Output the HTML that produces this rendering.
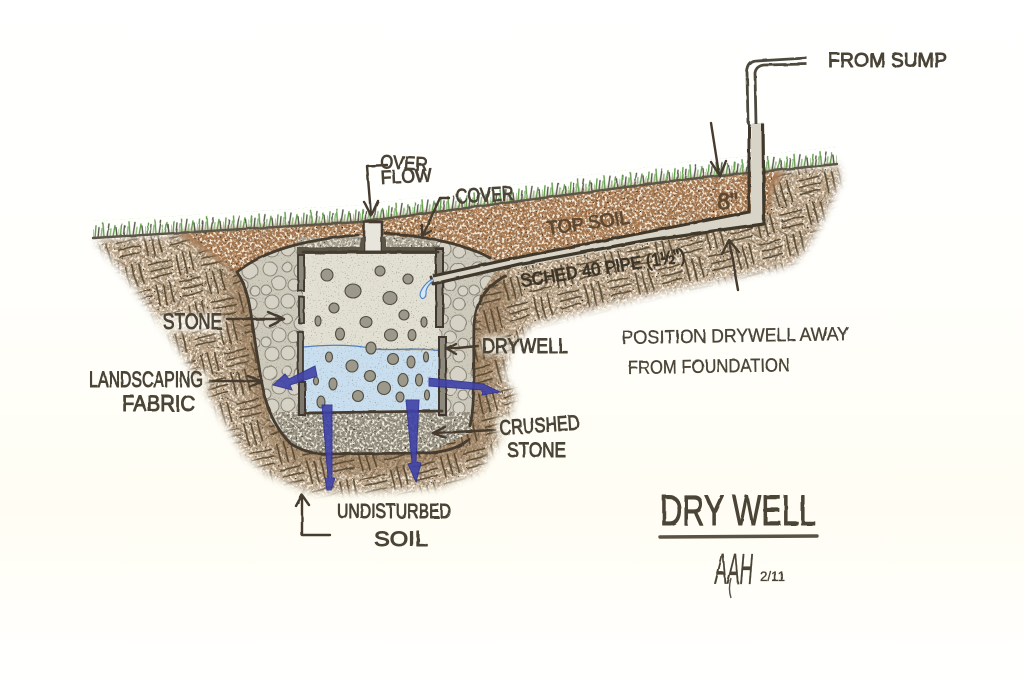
<!DOCTYPE html>
<html><head><meta charset="utf-8"><title>Dry Well</title>
<style>
html,body{margin:0;padding:0;background:#fff}
svg{display:block}
text{font-family:"Liberation Sans",sans-serif;font-weight:normal;fill:#4b4437;stroke:#4b4437;stroke-width:.9;stroke-linejoin:round}
.t{stroke-width:.35}
.l{fill:none;stroke:#453b2f;stroke-width:2.8;stroke-linecap:round;stroke-linejoin:round}
.a{fill:none;stroke:#453b2f;stroke-width:2.4;stroke-linecap:round;stroke-linejoin:round}
.s{fill:#9c988a;stroke:#514c41;stroke-width:1.1}
.b{fill:#3f42a8;stroke:#2f3290;stroke-width:1;opacity:.9}
</style></head><body>
<svg xmlns="http://www.w3.org/2000/svg" width="1024" height="681" viewBox="0 0 1024 681">
<defs>
<linearGradient id="bg" x1="0" y1="0" x2="0" y2="1"><stop offset="0" stop-color="#ffffff"/><stop offset=".4" stop-color="#fffffc"/><stop offset=".75" stop-color="#fffdf3"/><stop offset="1" stop-color="#ffffff"/></linearGradient>
<filter id="wob" x="-5%" y="-5%" width="110%" height="110%"><feTurbulence type="fractalNoise" baseFrequency=".05" numOctaves="2" seed="4"/><feDisplacementMap in="SourceGraphic" scale="3"/></filter>
<filter id="wob2" x="-5%" y="-5%" width="110%" height="110%"><feTurbulence type="fractalNoise" baseFrequency=".07" numOctaves="2" seed="9"/><feDisplacementMap in="SourceGraphic" scale="1.6"/></filter>
<filter id="blur" x="-10%" y="-10%" width="120%" height="120%"><feGaussianBlur stdDeviation="4"/></filter>
<filter id="blur2" x="-30%" y="-30%" width="160%" height="160%"><feGaussianBlur stdDeviation="3"/></filter>
<filter id="blur3" x="-10%" y="-10%" width="120%" height="120%"><feGaussianBlur stdDeviation="7"/></filter>
<filter id="speck" color-interpolation-filters="sRGB" x="0" y="0" width="100%" height="100%">
 <feTurbulence type="fractalNoise" baseFrequency=".55" numOctaves="2" seed="3" result="n"/>
 <feColorMatrix in="n" values="0 0 0 0 .17 0 0 0 0 .13 0 0 0 0 .1 7 0 0 0 -4.6" result="d"/>
 <feTurbulence type="fractalNoise" baseFrequency=".4" numOctaves="2" seed="12" result="m"/>
 <feColorMatrix in="m" values="0 0 0 0 .96 0 0 0 0 .93 0 0 0 0 .87 0 5 0 0 -2.35" result="w"/>
 <feMerge result="x"><feMergeNode in="SourceGraphic"/><feMergeNode in="w"/><feMergeNode in="d"/></feMerge>
 <feComposite in="x" in2="SourceGraphic" operator="in"/>
</filter>
<filter id="fine" color-interpolation-filters="sRGB" x="0" y="0" width="100%" height="100%">
 <feTurbulence type="fractalNoise" baseFrequency=".8" numOctaves="1" seed="6" result="n"/>
 <feColorMatrix in="n" values="0 0 0 0 .45 0 0 0 0 .43 0 0 0 0 .38 4 0 0 0 -2.5" result="d"/>
 <feMerge result="x"><feMergeNode in="SourceGraphic"/><feMergeNode in="d"/></feMerge>
 <feComposite in="x" in2="SourceGraphic" operator="in"/>
</filter>
<pattern id="hatch" width="52" height="52" patternUnits="userSpaceOnUse" patternTransform="rotate(-14)">
 <g stroke="#54462f" stroke-width="1.6" stroke-linecap="round" fill="none">
  <path d="M2 5H23M3 12H24M2 19H22M30 2V24M37 3V25M44 2V23M5 30V50M12 29V50M19 30V49M28 33H50M29 40H51M28 47H49"/>
 </g>
</pattern>
<pattern id="hatch2" width="46" height="46" patternUnits="userSpaceOnUse" patternTransform="rotate(28) translate(11 7)">
 <g stroke="#6a5a46" stroke-width="1.2" stroke-linecap="round" fill="none">
  <path d="M3 8H19M3 15H19M27 3V19M34 3V19M6 27V43M13 27V43M27 30H43M27 37H43"/>
 </g>
</pattern>
<mask id="soilMask" maskUnits="userSpaceOnUse" x="0" y="100" width="1024" height="450">
 <path d="M95 240L360 222L680 180L838 165L840 180L825 215L805 250L790 265L720 280L650 295L590 310L530 325L510 350L503 375L515 395L505 430L480 470L440 487L380 492L310 492L270 475L245 455L215 405L170 335L125 275Z" fill="#fff" filter="url(#blur)"/>
</mask>
<pattern id="pebble" width="52" height="52" patternUnits="userSpaceOnUse">
 <g fill="#d6d3c6" stroke="#8a8679" stroke-width="1">
  <circle cx="10" cy="9" r="7"/><circle cx="27" cy="7" r="5"/><circle cx="42" cy="11" r="8"/><circle cx="19" cy="23" r="7"/><circle cx="34" cy="25" r="6"/><circle cx="6" cy="30" r="5"/><circle cx="47" cy="31" r="5"/><circle cx="12" cy="42" r="7"/><circle cx="28" cy="41" r="7"/><circle cx="43" cy="44" r="6"/>
 </g>
</pattern>
<pattern id="grass" x="0" y="-17" width="26" height="17" patternUnits="userSpaceOnUse">
 <g fill="none" stroke-linecap="round" stroke-width="1.4">
  <path stroke="#5f9a48" d="M2 17L3 5M11 17L10 3M20 17L22 6"/>
  <path stroke="#55564a" d="M5 17L6 7M14 17L16 4M24 17L23 8"/>
  <path stroke="#8fb67c" d="M0 17L0 9M8 17L9 8M17 17L18 9"/>
 </g>
</pattern>
</defs>

<rect width="1024" height="681" fill="url(#bg)"/>

<!-- soil hatching -->
<g mask="url(#soilMask)">
 <rect x="80" y="150" width="780" height="350" fill="#b59e82" filter="url(#speck)"/>
 <path d="M237 272C251 320 258 400 290 443C320 462 430 462 469 439C480 400 480 320 505 276" fill="none" stroke="#8a6a48" stroke-width="34" opacity=".55" filter="url(#blur3)"/>
 <rect x="80" y="150" width="780" height="350" fill="url(#hatch)" filter="url(#wob)"/>
 <rect x="80" y="150" width="780" height="350" fill="url(#hatch2)" filter="url(#wob)" opacity=".55"/>
</g>

<!-- topsoil -->
<path d="M175 232L360 222L680 180L785 170L772 190L768 215L740 222L500 264L490 258L440 240L380 235L340 235L290 243L237 272L215 258Z" fill="#a67a54" filter="url(#blur2)"/>
<path d="M185 232L360 222L680 180L775 171L768 190L768 215L740 222L500 264L490 258L440 240L380 235L340 235L290 243L237 272L218 256Z" fill="#a67850" filter="url(#speck)"/>

<!-- grass -->
<g filter="url(#wob2)">
 <rect transform="matrix(1 -.06 0 1 93 238)" x="0" y="-17" width="267" height="17" fill="url(#grass)"/>
 <rect transform="matrix(1 -.131 0 1 360 222)" x="0" y="-17" width="320" height="17" fill="url(#grass)"/>
 <rect transform="matrix(1 -.102 0 1 680 180)" x="0" y="-17" width="157" height="17" fill="url(#grass)"/>
</g>
<path d="M93 238L360 222L680 180L837 164" fill="none" stroke="#5c5748" stroke-width="2.4" stroke-linecap="round" filter="url(#wob2)"/>

<!-- stone backfill -->
<path d="M237 272C262 252 300 240 340 235L380 235L440 240L490 258L500 264L480 295L474 320L475 400L472 425L430 452L320 453L290 445L270 420L258 360L250 300Z" fill="#cdcabb" filter="url(#fine)"/>
<path d="M237 272C262 252 300 240 340 235L380 235L440 240L490 258L500 264L480 295L474 320L475 400L472 425L470 412L300 412L270 420L258 360L250 300Z" fill="url(#pebble)" filter="url(#wob2)"/>
<!-- crushed stone -->
<path d="M272 412L472 412L472 432L430 452L320 453L290 445Z" fill="#8f8b7d" filter="url(#speck)"/>
<!-- cover stone -->
<rect x="300" y="237" width="140" height="11" fill="#a19d8e" filter="url(#speck)"/>

<!-- well interior -->
<rect x="303" y="252" width="136" height="96" fill="#e2dfd3" filter="url(#fine)"/>
<path d="M303 347L360 346L370 350L440 351L441 412L303 412Z" fill="#c9dfef" filter="url(#fine)"/>
<path d="M303 347C330 344 360 345 372 349C395 351 420 347 440 351" fill="none" stroke="#4d82c2" stroke-width="1.2"/>

<!-- stones -->
<g>
<ellipse class="s" cx="327" cy="275" rx="6" ry="6"/><ellipse class="s" cx="380" cy="271" rx="5" ry="5"/><ellipse class="s" cx="408" cy="279" rx="5" ry="5"/><ellipse class="s" cx="353" cy="291" rx="8" ry="7"/><ellipse class="s" cx="390" cy="298" rx="7" ry="6.5"/><ellipse class="s" cx="334" cy="308" rx="5" ry="5"/><ellipse class="s" cx="404" cy="315" rx="5" ry="5"/><ellipse class="s" cx="318" cy="321" rx="3" ry="5"/><ellipse class="s" cx="366" cy="322" rx="6" ry="5.5"/><ellipse class="s" cx="424" cy="322" rx="3" ry="5"/><ellipse class="s" cx="340" cy="334" rx="4.5" ry="6"/><ellipse class="s" cx="391" cy="335" rx="6.5" ry="6"/><ellipse class="s" cx="412" cy="335" rx="4" ry="5.5"/><ellipse class="s" cx="371" cy="348" rx="5" ry="6"/><ellipse class="s" cx="329" cy="357" rx="3.5" ry="5"/><ellipse class="s" cx="352" cy="366" rx="6" ry="6"/><ellipse class="s" cx="393" cy="359" rx="5.5" ry="5.5"/><ellipse class="s" cx="411" cy="362" rx="4" ry="6"/><ellipse class="s" cx="426" cy="357" rx="2.5" ry="5"/><ellipse class="s" cx="370" cy="376" rx="5.5" ry="5.5"/><ellipse class="s" cx="403" cy="380" rx="5" ry="6.5"/><ellipse class="s" cx="419" cy="380" rx="3.5" ry="6"/><ellipse class="s" cx="316" cy="381" rx="2.5" ry="4"/><ellipse class="s" cx="333" cy="384" rx="4" ry="6"/><ellipse class="s" cx="384" cy="388" rx="6.5" ry="6.5"/><ellipse class="s" cx="358" cy="396" rx="5.5" ry="5.5"/><ellipse class="s" cx="400" cy="397" rx="4" ry="5"/><ellipse class="s" cx="427" cy="395" rx="2.5" ry="5"/><ellipse class="s" cx="321" cy="402" rx="4" ry="6"/>
</g>

<!-- well walls -->
<g filter="url(#wob2)">
 <path d="M297 247H444V254H305V290H298V254H297Z" fill="#5b564a"/>
 <rect x="298" y="255" width="6" height="36" fill="#8d897b" stroke="#3f382e" stroke-width="1.8"/>
 <rect x="299" y="297" width="5" height="26" fill="#8d897b" stroke="#3f382e" stroke-width="1.8"/>
 <rect x="298" y="332" width="5" height="48" fill="#8d897b" stroke="#3f382e" stroke-width="1.8"/>
 <rect x="299" y="382" width="6" height="33" fill="#7d796c" stroke="#3f382e" stroke-width="2"/>
 <rect x="436" y="249" width="7" height="78" fill="#8d897b" stroke="#3f382e" stroke-width="2"/>
 <rect x="439" y="337" width="7" height="78" fill="#8d897b" stroke="#3f382e" stroke-width="2"/>
 <rect x="364" y="222" width="18" height="30" fill="#e8e6dc" stroke="#453b2f" stroke-width="2.6"/>
 <rect x="360" y="237" width="4" height="15" fill="#5b564a"/><rect x="382" y="237" width="4" height="15" fill="#5b564a"/>
 <path d="M303 252H438M305 413L442 411" class="l" stroke-width="1.6"/>
</g>

<!-- fabric -->
<g filter="url(#wob2)">
 <path class="l" d="M237 272C251 292 251 320 258 360C263 395 268 420 290 443C300 450 310 453 325 454L430 453C450 451 462 446 469 439"/>
 <path class="l" d="M237 272C262 252 300 240 358 235M385 233C420 236 465 243 490 258"/>
 <path class="l" d="M505 276C485 288 476 300 474 325C473 360 476 400 470 426"/>
</g>

<!-- pipes -->
<g filter="url(#wob2)">
 <path d="M432 283L750 224L764 224L764 123L751 123L751 213L432 276Z" fill="#d8d5c8"/>
 <path d="M433 276L515 258L749 212L749 124" fill="none" stroke="#3f372c" stroke-width="3"/>
 <path d="M433 284L520 264L648 240L764 224L763 124" fill="none" stroke="#3f372c" stroke-width="3.2"/>
 <path d="M748 124L747 72Q748 61 757 61L807 58M756 124L755 73Q756 66 764 65L807 64" fill="none" stroke="#4e483d" stroke-width="2.8"/>
 <path d="M431 277L433 284" class="l"/>
</g>
<path d="M433 279C427 281 420 290 420 295C421 301 427 299 426 291C427 287 429 284 433 281" fill="#d5e6f5" stroke="#4f83c5" stroke-width="1.1"/>

<!-- blue arrows -->
<g>
 <path class="b" d="M315 366L317 376L290 385L292 390L273 385L285 374L289 379Z"/>
 <path class="b" d="M429 378L429 386L483 390L482 395L500 392L485 385L484 384Z"/>
 <path class="b" d="M322 405L332 405L332 478L335 478L331 490L327 490L325 478L328 478Z"/>
 <path class="b" d="M406 400L419 400L416 462L421 463L416 482L408 464L412 463Z"/>
</g>

<!-- leader arrows -->
<g filter="url(#wob2)">
 <path class="a" d="M387 165L367 166L371 215M364 202L371 216L378 201"/>
 <path class="a" d="M449 198L440 198L423 235M422 225L422 236L431 231"/>
 <path class="a" d="M227 319L284 319M268 312L284 319L270 326"/>
 <path class="a" d="M210 381L262 381M248 376L262 381L250 387"/>
 <path class="a" d="M478 346L447 349M456 344L447 349L456 354"/>
 <path class="a" d="M495 430L433 433M445 427L433 433L446 438"/>
 <path class="a" d="M711 123L719 174M711 162L720 176L726 161"/>
 <path class="a" d="M738 290L729 240M722 254L729 240L739 252"/>
 <path class="a" d="M330 535L302 535L302 496M296 506L302 495L309 505"/>
</g>

<!-- light patches behind labels on soil -->
<g fill="#fffdf4" filter="url(#blur2)" opacity=".85">
 <rect x="160" y="314" width="62" height="18"/>
 <rect x="196" y="371" width="12" height="20"/>
 <rect x="482" y="336" width="26" height="18"/>
 <rect x="496" y="416" width="24" height="20"/>
</g>

<!-- labels -->
<g filter="url(#wob2)">
<text x="828" y="67" font-size="20" textLength="119" lengthAdjust="spacingAndGlyphs">FROM SUMP</text>
<text x="380" y="168" font-size="19" textLength="47" lengthAdjust="spacingAndGlyphs" transform="rotate(3 380 168)">OVER</text>
<text x="381" y="184" font-size="19" textLength="51" lengthAdjust="spacingAndGlyphs" transform="rotate(-3 381 184)">FLOW</text>
<text x="456" y="203" font-size="20" textLength="58" lengthAdjust="spacingAndGlyphs" transform="rotate(-3 456 203)">COVER</text>
<text x="548" y="235" font-size="19" textLength="83" lengthAdjust="spacingAndGlyphs" transform="rotate(-8 548 235)" style="fill:#5e4830;stroke:#5e4830">TOP SOIL</text>
<text x="522" y="287" font-size="18" textLength="166" lengthAdjust="spacingAndGlyphs" transform="rotate(-9 522 287)" style="fill:#3c3529;stroke:#3c3529">SCHED 40 PIPE (1½")</text>
<text x="717" y="209" font-size="23" textLength="21" lengthAdjust="spacingAndGlyphs" style="fill:#5e4830;stroke:#5e4830">8"</text>
<text x="163" y="329" font-size="22" textLength="59" lengthAdjust="spacingAndGlyphs">STONE</text>
<text x="89" y="387" font-size="22" textLength="114" lengthAdjust="spacingAndGlyphs">LANDSCAPING</text>
<text x="122" y="411" font-size="22" textLength="73" lengthAdjust="spacingAndGlyphs">FABRIC</text>
<text x="482" y="353" font-size="21" textLength="86" lengthAdjust="spacingAndGlyphs">DRYWELL</text>
<text x="500" y="435" font-size="21" textLength="80" lengthAdjust="spacingAndGlyphs" transform="rotate(-4 500 435)">CRUSHED</text>
<text x="507" y="457" font-size="21" textLength="59" lengthAdjust="spacingAndGlyphs">STONE</text>
<text x="337" y="518" font-size="20" textLength="114" lengthAdjust="spacingAndGlyphs">UNDISTURBED</text>
<text x="374" y="546" font-size="21" textLength="54" lengthAdjust="spacingAndGlyphs">SOIL</text>
<text class="t" x="622" y="344" font-size="19" textLength="227" lengthAdjust="spacingAndGlyphs" transform="rotate(-1 622 344)">POSITION  DRYWELL AWAY</text>
<text class="t" x="628" y="374" font-size="19" textLength="162" lengthAdjust="spacingAndGlyphs" transform="rotate(-1 628 374)">FROM FOUNDATION</text>
<text x="660" y="525" font-size="43" textLength="156" lengthAdjust="spacingAndGlyphs" style="stroke-width:.9">DRY WELL</text>
<text class="t" x="715" y="584" font-size="44" font-style="italic" textLength="38" lengthAdjust="spacingAndGlyphs">AAH</text>
<text class="t" x="760" y="581" font-size="14" textLength="25" lengthAdjust="spacingAndGlyphs">2/11</text>
</g>
<path d="M660 537L817 536" fill="none" stroke="#5a5344" stroke-width="3.4" stroke-linecap="round"/>
<path d="M731 578C729 585 729 592 731 598" fill="none" stroke="#5a5344" stroke-width="1.4"/>
</svg>
</body></html>
